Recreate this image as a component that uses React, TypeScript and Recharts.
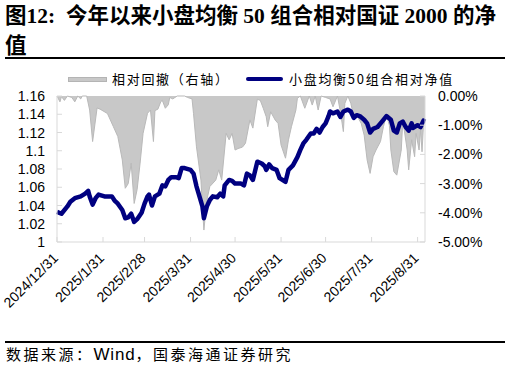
import React from 'react';
import {
  ComposedChart,
  Line,
  Area,
  XAxis,
  YAxis,
} from 'recharts';

// Day offsets counted from 2024/12/31
const NAV_DAYS = [
  0, 3, 7, 9, 12, 16, 19, 21, 22, 24, 26, 28, 32, 37, 39, 41, 44, 46, 48, 50,
  52, 54, 57, 59, 61, 62, 64, 66, 69, 71, 73, 75, 77, 80, 82, 84, 86, 90, 92, 94,
  96, 98, 99, 101, 103, 105, 108, 110, 112, 113, 116, 118, 120, 124, 126, 128, 130, 132, 135, 138,
  140, 141, 143, 145, 148, 150, 154, 156, 159, 162, 164, 166, 168, 171, 173, 175, 177, 179, 181, 183,
  184, 186, 189, 191, 193, 196, 198, 200, 202, 204, 207, 209, 211, 213, 216, 219, 222, 225, 227, 229,
  231, 233, 235, 237, 239, 240, 243, 245, 247, 248,
];
const NAV_VALUES = [
  1.033, 1.031, 1.039, 1.044, 1.048, 1.05, 1.053, 1.056, 1.05, 1.041, 1.048, 1.052, 1.05, 1.05, 1.045, 1.042, 1.035, 1.026, 1.027, 1.031,
  1.022, 1.025, 1.032, 1.042, 1.05, 1.052, 1.04, 1.05, 1.053, 1.062, 1.061, 1.068, 1.071, 1.071, 1.07, 1.081, 1.081, 1.079, 1.075, 1.061,
  1.05, 1.039, 1.026, 1.039, 1.046, 1.05, 1.049, 1.053, 1.05, 1.062, 1.068, 1.067, 1.064, 1.064, 1.062, 1.075, 1.073, 1.068, 1.088, 1.086,
  1.083, 1.079, 1.085, 1.081, 1.079, 1.07, 1.066, 1.079, 1.084, 1.093, 1.101, 1.108, 1.112, 1.119, 1.119, 1.124, 1.12, 1.126, 1.13, 1.138,
  1.143, 1.141, 1.143, 1.137, 1.143, 1.145, 1.143, 1.136, 1.139, 1.138, 1.134, 1.13, 1.12, 1.124, 1.126, 1.132, 1.138, 1.134, 1.122, 1.12,
  1.13, 1.132, 1.126, 1.122, 1.13, 1.125, 1.128, 1.126, 1.133, 1.132,
];

const DD_DAYS = [
  0, 2, 3, 5, 7, 10, 12, 14, 16, 17, 20, 22, 24, 27, 29, 34, 38, 41, 44, 46,
  48, 50, 52, 54, 56, 58, 61, 63, 65, 66, 68, 70, 71, 73, 75, 76, 78, 81, 86, 88,
  91, 92, 94, 97, 98, 99, 101, 103, 107, 109, 111, 114, 116, 118, 120, 122, 125, 127, 130, 132,
  135, 137, 139, 141, 142, 144, 147, 149, 151, 154, 156, 158, 161, 162, 164, 167, 170, 172, 174, 176,
  178, 181, 184, 186, 189, 191, 193, 194, 196, 198, 200, 202, 205, 207, 209, 211, 213, 215, 218, 220,
  222, 224, 225, 227, 229, 232, 233, 234, 236, 237, 239, 241, 242, 244, 245, 246, 247, 248,
];
const DD_VALUES = [
  0, -0.2, -0.02, -0.15, 0, -0.05, -0.2, 0, -0.1, 0, 0, -0.48, -1.56, -0.41, -0.45, -0.6, -1.05, -1.39, -2.19, -3.16,
  -3.0, -2.3, -3.68, -3.2, -2.3, -1.28, -0.59, -0.48, -1.56, -0.5, -0.45, -0.19, -0.15, -0.42, -0.3, -0.05, -0.1, 0, 0, -0.05,
  -0.1, -0.6, -1.74, -2.88, -3.79, -4.59, -3.56, -3.1, -2.88, -2.53, -2.88, -1.28, -1.5, -1.28, -1.85, -1.8, -1.75, -1.62, -0.82, -1.1,
  -0.11, -0.15, -0.42, -0.71, -1.05, -0.54, -0.82, -0.94, -1.68, -2.13, -1.5, -1.05, -0.48, -0.08, 0, -0.42, 0, -0.31, 0, -0.48,
  0, -0.05, -0.1, -0.37, 0, -0.54, -1.22, -0.25, 0, -0.25, -0.71, -0.65, -0.94, -1.34, -2.19, -2.65, -2.08, -1.85, -1.56, -1.05,
  -0.65, -1.0, -1.85, -2.59, -2.71, -1.85, -0.88, -1.16, -1.85, -2.53, -1.5, -2.08, -1.28, -1.85, -1.16, -1.91, -0.94, -0.82,
];

const X_TICK_DAYS = [0, 31, 59, 90, 120, 151, 181, 212, 243];
const X_TICK_LABELS = [
  '2024/12/31', '2025/1/31', '2025/2/28', '2025/3/31', '2025/4/30',
  '2025/5/31', '2025/6/30', '2025/7/31', '2025/8/31',
];
const LEFT_TICKS = [1, 1.02, 1.04, 1.06, 1.08, 1.1, 1.12, 1.14, 1.16];
const RIGHT_TICKS = [-5, -4, -3, -2, -1, 0];
const LAST_DAY = 248;

const SERIES_NAV = '小盘均衡50组合相对净值';
const SERIES_DD = '相对回撤（右轴）';
const TITLE_LINE1 = '图12:  今年以来小盘均衡 50 组合相对国证 2000 的净';
const TITLE_LINE2 = '值';
const SOURCE_PARTS = ['数据来源：', 'Wind', '，国泰海通证券研究'];

type Row = { day: number; nav?: number | null; dd?: number | null };
const rowMap = new Map<number, Row>();
NAV_DAYS.forEach((d, i) => {
  const r = rowMap.get(d) || { day: d, nav: null, dd: null };
  r.nav = NAV_VALUES[i];
  rowMap.set(d, r);
});
DD_DAYS.forEach((d, i) => {
  const r = rowMap.get(d) || { day: d, nav: null, dd: null };
  r.dd = DD_VALUES[i];
  rowMap.set(d, r);
});
const DATA = Array.from(rowMap.values()).sort((a, b) => a.day - b.day);

const AXIS_FONT = "'Liberation Sans', Arial, sans-serif";
const CJK_FONT = "'Noto Sans CJK SC', 'Liberation Sans', sans-serif";
const GRID = '#d9d9d9';

const LeftTick = (props: any) => {
  const { x, y, payload } = props;
  const v = payload.value as number;
  return (
    <g>
      <line x1={x} x2={x + 5} y1={y} y2={y} stroke={GRID} />
      <text x={x - 12} y={y} dy="0.36em" textAnchor="end" fontSize={14} fontFamily={AXIS_FONT} fill="#000">
        {String(Number(v.toFixed(2)))}
      </text>
    </g>
  );
};

const RightTick = (props: any) => {
  const { x, y, payload } = props;
  const v = payload.value as number;
  return (
    <g>
      <line x1={x} x2={x - 5} y1={y} y2={y} stroke={GRID} />
      <text x={x + 13} y={y} dy="0.36em" textAnchor="start" fontSize={14} fontFamily={AXIS_FONT} fill="#000">
        {`${v.toFixed(2)}%`}
      </text>
    </g>
  );
};

const BottomTick = (props: any) => {
  const { x, y, payload } = props;
  const idx = X_TICK_DAYS.indexOf(payload.value);
  const label = idx >= 0 ? X_TICK_LABELS[idx] : '';
  const ax = x + 2;
  const ay = y + 17;
  return (
    <g>
      <line x1={x} x2={x} y1={y} y2={y - 5} stroke={GRID} />
      <text
        x={ax}
        y={ay}
        textAnchor="end"
        fontSize={14}
        fontFamily={AXIS_FONT}
        fill="#000"
        transform={`rotate(-45 ${ax} ${ay})`}
      >
        {label}
      </text>
    </g>
  );
};

export default function App() {
  return (
    <div style={{ position: 'absolute', left: 0, top: 0, width: 510, height: 373, background: '#fff', overflow: 'hidden' }}>
      <div
        style={{
          position: 'absolute', left: 5, top: 5, fontSize: 21.5, lineHeight: '22px', fontWeight: 'bold',
          fontFamily: "'Liberation Serif', 'Noto Sans CJK SC', serif", whiteSpace: 'pre', color: '#000',
        }}
      >
        {TITLE_LINE1}
      </div>
      <div
        style={{
          position: 'absolute', left: 5, top: 35, fontSize: 21.5, lineHeight: '22px', fontWeight: 'bold',
          fontFamily: "'Liberation Serif', 'Noto Sans CJK SC', serif", whiteSpace: 'pre', color: '#000',
        }}
      >
        {TITLE_LINE2}
      </div>
      <div style={{ position: 'absolute', left: 5, top: 57, width: 500, height: 2, background: '#000' }} />

      {/* legend */}
      <div style={{ position: 'absolute', left: 68, top: 77, width: 37, height: 3, background: '#c8c8c8', border: '1px solid #b4b4b4' }} />
      <div style={{ position: 'absolute', left: 112, top: 70, fontSize: 13, lineHeight: '18px', letterSpacing: 1.7, fontFamily: CJK_FONT, color: '#000', whiteSpace: 'pre' }}>
        {SERIES_DD}
      </div>
      <div style={{ position: 'absolute', left: 246, top: 77, width: 37, height: 4, background: '#000080', borderRadius: 2 }} />
      <div style={{ position: 'absolute', left: 289, top: 70, fontSize: 13, lineHeight: '18px', letterSpacing: 1.7, fontFamily: CJK_FONT, color: '#000', whiteSpace: 'pre' }}>
        {SERIES_NAV}
      </div>

      <div style={{ position: 'absolute', left: 0, top: 0 }}>
        <ComposedChart width={510} height={373} data={DATA} margin={{ top: 96, right: 0, bottom: 61, left: 7 }}>
          <XAxis
            dataKey="day"
            type="number"
            domain={[0, LAST_DAY]}
            ticks={X_TICK_DAYS}
            interval={0}
            tick={<BottomTick />}
            tickSize={0}
            tickMargin={0}
            height={70}
            axisLine={{ stroke: GRID }}
            tickLine={false}
          />
          <XAxis
            xAxisId="top"
            orientation="top"
            dataKey="day"
            type="number"
            domain={[0, LAST_DAY]}
            height={0}
            tick={false}
            tickLine={false}
            axisLine={{ stroke: GRID }}
          />
          <YAxis
            yAxisId="left"
            orientation="left"
            domain={[1, 1.16]}
            ticks={LEFT_TICKS}
            interval={0}
            width={50}
            tick={<LeftTick />}
            tickSize={0}
            tickMargin={0}
            tickLine={false}
            axisLine={{ stroke: GRID }}
          />
          <YAxis
            yAxisId="right"
            orientation="right"
            domain={[-5, 0]}
            ticks={RIGHT_TICKS}
            interval={0}
            width={85}
            tick={<RightTick />}
            tickSize={0}
            tickMargin={0}
            tickLine={false}
            axisLine={{ stroke: GRID }}
          />
          <Area
            yAxisId="right"
            dataKey="dd"
            name={SERIES_DD}
            type="linear"
            baseValue={0}
            fill="#c8c8c8"
            fillOpacity={1}
            stroke="#b9b9b9"
            strokeWidth={1}
            connectNulls
            isAnimationActive={false}
            dot={false}
            activeDot={false}
          />
          <Line
            yAxisId="left"
            dataKey="nav"
            name={SERIES_NAV}
            type="linear"
            stroke="#000080"
            strokeWidth={4.5}
            strokeLinejoin="round"
            dot={false}
            activeDot={false}
            connectNulls
            isAnimationActive={false}
          />
        </ComposedChart>
      </div>

      <div style={{ position: 'absolute', left: 5, top: 341, width: 500, height: 2, background: '#000' }} />
      <div style={{ position: 'absolute', left: 6, top: 346, fontSize: 15, lineHeight: '16px', letterSpacing: 2.5, fontFamily: CJK_FONT, color: '#000', whiteSpace: 'pre' }}>
        <span>{SOURCE_PARTS[0]}</span>
        <span style={{ fontFamily: AXIS_FONT, fontSize: 17, letterSpacing: 0.8 }}>{SOURCE_PARTS[1]}</span>
        <span>{SOURCE_PARTS[2]}</span>
      </div>
    </div>
  );
}
